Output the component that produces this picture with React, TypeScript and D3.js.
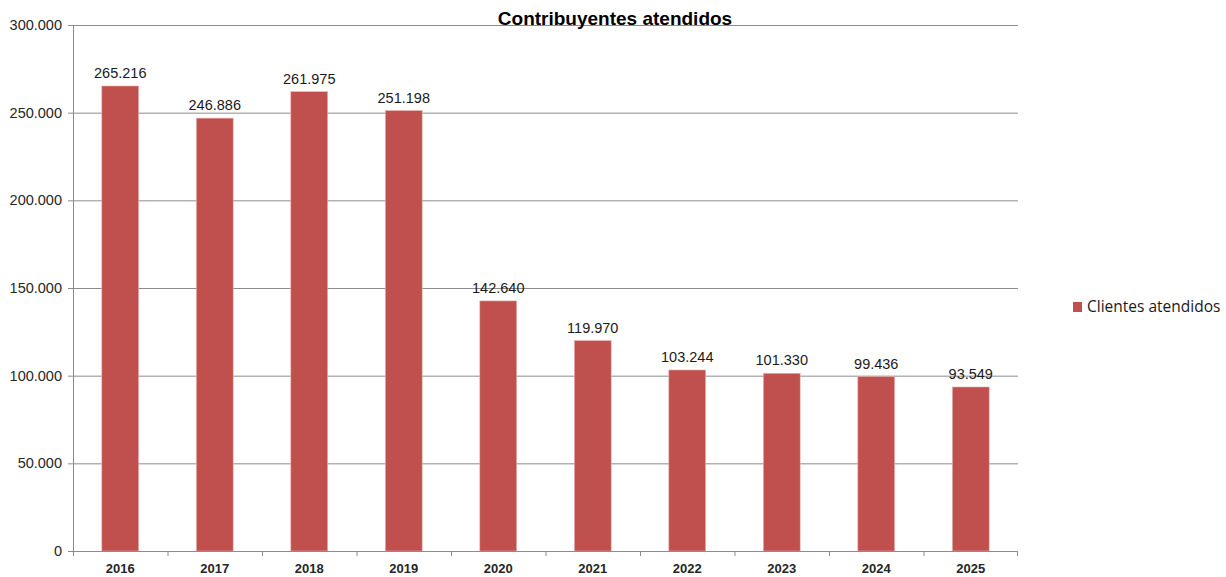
import React from "react";
import * as d3 from "d3";

const years = ["2016", "2017", "2018", "2019", "2020", "2021", "2022", "2023", "2024", "2025"];
const clientes = [265216, 246886, 261975, 251198, 142640, 119970, 103244, 101330, 99436, 93549];
const yTicks = [0, 50000, 100000, 150000, 200000, 250000, 300000];
const title = "Contribuyentes atendidos";
const seriesName = "Clientes atendidos";

const W = 1226, H = 577;
const left = 73, right = 1018, top = 25, bottom = 551;
const fmt = (v: number) => (v === 0 ? "0" : d3.format(",")(v).replace(/,/g, "."));

export default function App() {
  const x = d3.scaleBand<string>().domain(years).range([left, right]).paddingInner(0.61).paddingOuter(0.305);
  const band = d3.scaleBand<string>().domain(years).range([left, right]);
  const y = d3.scaleLinear().domain([0, 300000]).range([bottom, top]);
  const color = "#C0504D";
  const font = "Liberation Sans, Arial, sans-serif";
  return (
    <svg width={W} height={H} style={{ position: "absolute", left: 0, top: 0 }}>
      <rect width={W} height={H} fill="#fff" />
      {yTicks.map((t) => (
        <g key={t}>
          {t > 0 && <line x1={left} x2={right} y1={y(t) + 0.5} y2={y(t) + 0.5} stroke="#8c8c8c" strokeWidth={1} />}
          <line x1={left - 5} x2={left} y1={y(t) + 0.5} y2={y(t) + 0.5} stroke="#8c8c8c" />
          <text x={62} y={y(t) + 5} textAnchor="end" fontFamily={font} fontSize={14.5} fill="#262626">{fmt(t)}</text>
        </g>
      ))}
      {years.map((yr, i) => (
        <g key={yr}>
          <rect x={x(yr)} y={y(clientes[i])} width={x.bandwidth()} height={bottom - y(clientes[i])} fill={color} stroke="#e6b3b2" strokeWidth={0.6} />
          <text x={(x(yr) as number) + x.bandwidth() / 2} y={y(clientes[i]) - 8} textAnchor="middle" fontFamily={font} fontSize={14.5} fill="#1a1a1a">{fmt(clientes[i])}</text>
          <text x={(band(yr) as number) + band.bandwidth() / 2} y={573} textAnchor="middle" fontFamily={font} fontSize={13} fontWeight="bold" fill="#262626">{yr}</text>
        </g>
      ))}
      {years.map((yr) => (
        <line key={"t" + yr} x1={(band(yr) as number) + 0.5} x2={(band(yr) as number) + 0.5} y1={bottom} y2={bottom + 5} stroke="#8c8c8c" />
      ))}
      <line x1={right - 0.5} x2={right - 0.5} y1={bottom} y2={bottom + 5} stroke="#8c8c8c" />
      <line x1={left + 0.5} x2={left + 0.5} y1={top} y2={bottom} stroke="#8c8c8c" />
      <line x1={left} x2={right} y1={bottom + 0.5} y2={bottom + 0.5} stroke="#8c8c8c" />
      <text x={615} y={25} textAnchor="middle" fontFamily={font} fontSize={19} fontWeight="bold" fill="#000">{title}</text>
      <rect x={1073} y={302} width={9} height={10} fill={color} />
      <text x={1087} y={312} fontFamily="Open Sans, sans-serif" fontSize={15.5} fill="#1a1a1a">{seriesName}</text>
    </svg>
  );
}
